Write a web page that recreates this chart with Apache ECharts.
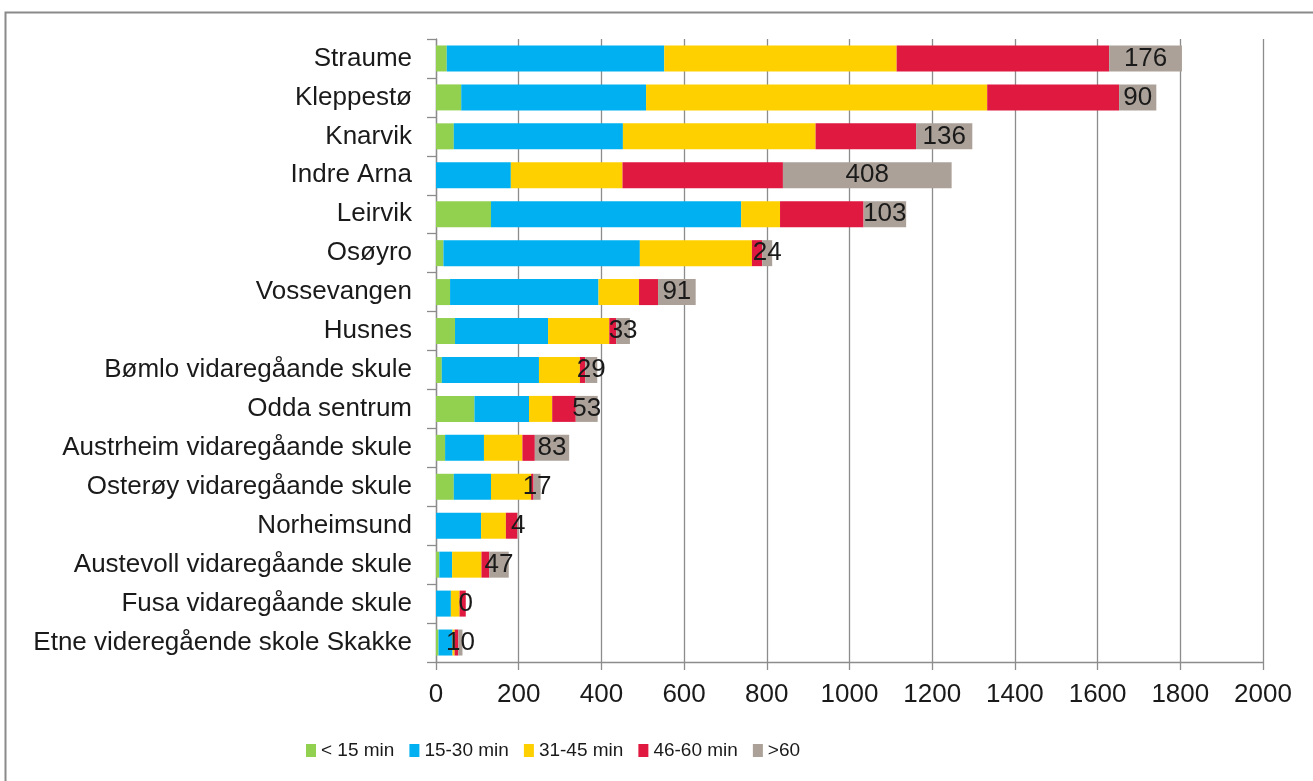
<!DOCTYPE html>
<html>
<head>
<meta charset="utf-8">
<script src="https://cdn.jsdelivr.net/npm/echarts@6/dist/echarts.min.js"></script>
<style>html,body{margin:0;padding:0;background:#fff}#c{width:1313px;height:781px}</style>
</head>
<body>
<div id="c"></div>
<script>
const categories = ["Straume","Kleppestø","Knarvik","Indre Arna","Leirvik","Osøyro","Vossevangen","Husnes","Bømlo vidaregåande skule","Odda sentrum","Austrheim vidaregåande skule","Osterøy vidaregåande skule","Norheimsund","Austevoll vidaregåande skule","Fusa vidaregåande skule","Etne videregående skole Skakke"];
const seriesNames = ["< 15 min","15-30 min","31-45 min","46-60 min",">60"];
const under15 = [26, 61, 43, 0, 133, 18, 34, 46, 14, 93, 22, 43, 0, 8, 0, 6];
const min15to30 = [526, 447, 409, 181, 605, 475, 359, 225, 235, 132, 94, 90, 109, 31, 36, 34];
const min31to45 = [562, 825, 466, 270, 94, 271, 98, 148, 99, 56, 93, 97, 60, 71, 21, 5];
const min46to60 = [514, 319, 243, 388, 202, 25, 46, 17, 13, 57, 30, 6, 28, 19, 15, 9];
const over60 = [176, 90, 136, 408, 103, 24, 91, 33, 29, 53, 83, 17, 4, 47, 0, 10];
const xTicks = {min: 0, max: 2000, interval: 200};

const colors = ["#92D050","#00B0F0","#FFD000","#DF1940","#ABA198"];
const values = [under15, min15to30, min31to45, min46to60, over60];
const textColor = "#1a1a1a";
const gridColor = "#8c8c8c";
const font = "'Liberation Sans', Arial, sans-serif";

const chart = echarts.init(document.getElementById('c'), null, {renderer: 'canvas'});
chart.setOption({
  animation: false,
  backgroundColor: '#fff',
  graphic: [{
    type: 'rect', left: 3, top: 10,
    shape: {width: 1400, height: 900},
    style: {fill: 'none', stroke: '#8a8a8a', lineWidth: 2}
  }],
  grid: {left: 436, right: 50, top: 39, bottom: 119, containLabel: false},
  legend: {
    left: 301, top: 736,
    itemWidth: 10, itemHeight: 13, itemGap: 15,
    icon: 'rect',
    textStyle: {fontFamily: font, fontSize: 19, color: textColor},
    data: seriesNames
  },
  xAxis: {
    type: 'value', min: xTicks.min, max: xTicks.max, interval: xTicks.interval,
    axisLine: {show: true, lineStyle: {color: gridColor, width: 1.3}},
    axisTick: {show: true, length: 8, lineStyle: {color: gridColor, width: 1.3}},
    splitLine: {show: true, lineStyle: {color: gridColor, width: 1.3}},
    axisLabel: {fontFamily: font, fontSize: 26, color: textColor, margin: 20, formatter: v => String(v)}
  },
  yAxis: {
    type: 'category', inverse: true, data: categories,
    axisLine: {show: true, lineStyle: {color: gridColor, width: 1.3}},
    axisTick: {show: true, length: 9, lineStyle: {color: gridColor, width: 1.3}},
    axisLabel: {fontFamily: font, fontSize: 26, color: textColor, margin: 24}
  },
  series: seriesNames.map((name, i) => ({
    name: name, type: 'bar', stack: 'total', barWidth: 26,
    itemStyle: {color: colors[i]},
    data: values[i],
    label: i === 4 ? {
      show: true, position: 'inside', formatter: '{c}',
      fontFamily: font, fontSize: 26, color: textColor
    } : {show: false}
  }))
});
</script>
</body>
</html>
